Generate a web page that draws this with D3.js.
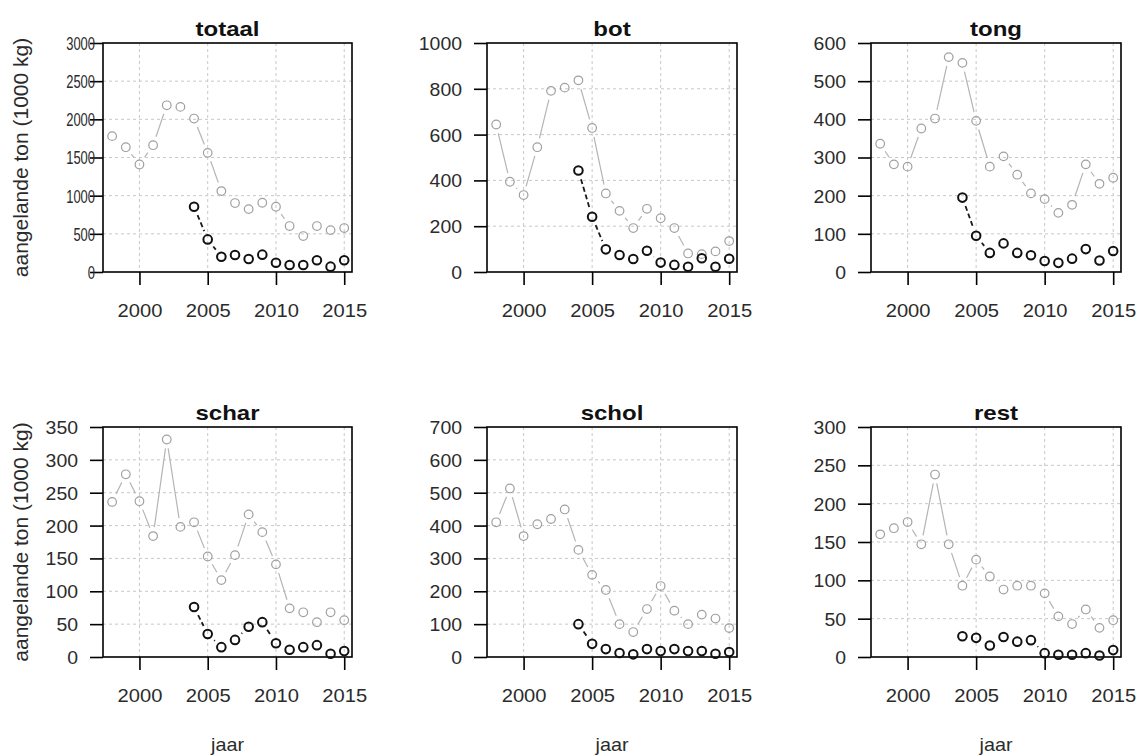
<!DOCTYPE html>
<html>
<head>
<meta charset="utf-8">
<script src="https://cdn.jsdelivr.net/npm/d3@7"></script>
<style>
  body { margin: 0; background: #fff; }
  svg { display: block; }
  text { font-family: Arial, "Liberation Sans", sans-serif; }
</style>
</head>
<body>
<svg id="chart" width="1139" height="755"></svg>
<script>
// Aangelande hoeveelheden per soort (1000 kg), twee reeksen
const jaren = [1998, 1999, 2000, 2001, 2002, 2003, 2004, 2005, 2006, 2007, 2008, 2009, 2010, 2011, 2012, 2013, 2014, 2015];
const jarenRecent = [2004, 2005, 2006, 2007, 2008, 2009, 2010, 2011, 2012, 2013, 2014, 2015];

const soorten = ["totaal", "bot", "tong", "schar", "schol", "rest"];

const totaalAlle   = [1780, 1635, 1408, 1661, 2184, 2163, 2010, 1561, 1060, 903, 824, 907, 855, 602, 471, 602, 549, 576];
const totaalRecent = [855, 427, 200, 222, 170, 227, 122, 92, 92, 153, 70, 153];

const botAlle   = [644, 394, 336, 545, 791, 805, 837, 629, 343, 267, 192, 276, 235, 192, 81, 78, 90, 135];
const botRecent = [443, 241, 99, 74, 57, 93, 41, 31, 23, 60, 23, 58];

const tongAlle   = [336, 282, 276, 376, 402, 563, 548, 396, 276, 303, 255, 206, 191, 155, 176, 282, 231, 247];
const tongRecent = [195, 95, 50, 75, 50, 44, 29, 24, 35, 60, 30, 55];

const scharAlle   = [236, 278, 237, 184, 331, 198, 205, 153, 117, 155, 217, 190, 141, 74, 68, 53, 68, 56];
const scharRecent = [76, 35, 15, 26, 46, 53, 21, 11, 15, 18, 5, 9];

const scholAlle   = [410, 513, 368, 404, 420, 449, 326, 250, 204, 100, 76, 146, 216, 141, 100, 129, 117, 88];
const scholRecent = [100, 40, 24, 12, 8, 24, 18, 24, 18, 18, 10, 15];

const restAlle   = [160, 168, 176, 147, 238, 147, 93, 127, 105, 88, 93, 93, 83, 53, 43, 62, 38, 48];
const restRecent = [27, 25, 15, 26, 20, 22, 5, 3, 3, 5, 2, 9];

// As-indeling per paneel
const ticksTotaal = [0, 500, 1000, 1500, 2000, 2500, 3000];
const ticksBot    = [0, 200, 400, 600, 800, 1000];
const ticksTong   = [0, 100, 200, 300, 400, 500, 600];
const ticksSchar  = [0, 50, 100, 150, 200, 250, 300, 350];
const ticksSchol  = [0, 100, 200, 300, 400, 500, 600, 700];
const ticksRest   = [0, 50, 100, 150, 200, 250, 300];
const jaarTicks   = [2000, 2005, 2010, 2015];

const yLabel = "aangelande ton (1000 kg)";
const xLabel = "jaar";

const panelen = [
  { titel: soorten[0], alle: totaalAlle, recent: totaalRecent, ticks: ticksTotaal },
  { titel: soorten[1], alle: botAlle,    recent: botRecent,    ticks: ticksBot },
  { titel: soorten[2], alle: tongAlle,   recent: tongRecent,   ticks: ticksTong },
  { titel: soorten[3], alle: scharAlle,  recent: scharRecent,  ticks: ticksSchar },
  { titel: soorten[4], alle: scholAlle,  recent: scholRecent,  ticks: ticksSchol },
  { titel: soorten[5], alle: restAlle,   recent: restRecent,   ticks: ticksRest }
];

// ---- layout ----
const kolommen = [[103, 352], [487, 737], [871, 1121]];
const rijen = [[43, 272], [427, 657]];
const xDomein = [1997.33, 2015.57];
const GAP = 9;           // open ruimte rond elk punt (type "b")
const RADIUS = 4.3;
const fmt = d3.format("d");

const svg = d3.select("#chart");

// lijnstukken tussen opeenvolgende punten, ingekort rond de punten
function segmenten(xs, vs, x, y) {
  const pts = xs.map((t, k) => [x(t), y(vs[k])]);
  const out = [];
  for (let k = 0; k < pts.length - 1; k++) {
    const [ax, ay] = pts[k], [bx, by] = pts[k + 1];
    const dx = bx - ax, dy = by - ay, d = Math.hypot(dx, dy);
    if (d <= 2 * GAP) continue;
    const ux = dx / d, uy = dy / d;
    out.push([ax + ux * GAP, ay + uy * GAP, bx - ux * GAP, by - uy * GAP]);
  }
  return out;
}

panelen.forEach((p, i) => {
  const col = i % 3, row = Math.floor(i / 3);
  const [x0, x1] = kolommen[col];
  const [y0, y1] = rijen[row];
  const yMax = p.ticks[p.ticks.length - 1];

  const x = d3.scaleLinear().domain(xDomein).range([x0, x1]);
  const y = d3.scaleLinear().domain([0, yMax]).range([y1, y0]);

  const g = svg.append("g");

  // raster
  g.selectAll(".gy").data(p.ticks.filter(t => t > 0 && t < yMax)).join("line")
    .attr("x1", x0).attr("x2", x1)
    .attr("y1", d => y(d)).attr("y2", d => y(d))
    .attr("stroke", "#c8c8c8").attr("stroke-width", 1).attr("stroke-dasharray", "3,3");
  g.selectAll(".gx").data(jaarTicks).join("line")
    .attr("x1", d => x(d)).attr("x2", d => x(d))
    .attr("y1", y0).attr("y2", y1)
    .attr("stroke", "#c8c8c8").attr("stroke-width", 1).attr("stroke-dasharray", "3,3");

  // y-as
  const yAs = g.append("g").attr("transform", `translate(${x0},0)`)
    .call(d3.axisLeft(y).tickValues(p.ticks).tickFormat(fmt).tickSize(13).tickSizeOuter(0));
  yAs.select(".domain").remove();
  yAs.selectAll("line").attr("stroke", "#000").attr("stroke-width", 1.6);
  const yPad = i === 0 ? 8 : 25;
  const ySx = i === 0 ? 0.72 : 1.08;
  yAs.selectAll("text")
    .attr("x", 0).attr("dy", "0.36em")
    .attr("transform", `translate(${-yPad},0) scale(${ySx},1)`)
    .attr("text-anchor", "end")
    .attr("font-size", 18).attr("fill", "#2b2b2b");

  // x-as
  const xAs = g.append("g").attr("transform", `translate(0,${y1})`)
    .call(d3.axisBottom(x).tickValues(jaarTicks).tickFormat(fmt).tickSize(13).tickSizeOuter(0));
  xAs.select(".domain").remove();
  xAs.selectAll("line").attr("stroke", "#000").attr("stroke-width", 1.6);
  xAs.selectAll("text")
    .attr("y", 0).attr("dy", 0)
    .attr("transform", "translate(0,45) scale(1.12,1)")
    .attr("text-anchor", "middle")
    .attr("font-size", 18).attr("fill", "#2b2b2b");

  // kader
  g.append("rect")
    .attr("x", x0).attr("y", y0).attr("width", x1 - x0).attr("height", y1 - y0)
    .attr("fill", "none").attr("stroke", "#000").attr("stroke-width", 1.6);

  // reeks over alle jaren (grijs)
  g.selectAll(".la").data(segmenten(jaren, p.alle, x, y)).join("line")
    .attr("x1", d => d[0]).attr("y1", d => d[1]).attr("x2", d => d[2]).attr("y2", d => d[3])
    .attr("stroke", "#b4b4b4").attr("stroke-width", 1.2);
  g.selectAll(".pa").data(jaren).join("circle")
    .attr("cx", d => x(d)).attr("cy", (d, k) => y(p.alle[k])).attr("r", RADIUS)
    .attr("fill", "none").attr("stroke", "#a0a0a0").attr("stroke-width", 1.2);

  // recente reeks (zwart)
  g.selectAll(".lr").data(segmenten(jarenRecent, p.recent, x, y)).join("line")
    .attr("x1", d => d[0]).attr("y1", d => d[1]).attr("x2", d => d[2]).attr("y2", d => d[3])
    .attr("stroke", "#1a1a1a").attr("stroke-width", 1.8).attr("stroke-dasharray", "5,3");
  g.selectAll(".pr").data(jarenRecent).join("circle")
    .attr("cx", d => x(d)).attr("cy", (d, k) => y(p.recent[k])).attr("r", RADIUS)
    .attr("fill", "none").attr("stroke", "#111").attr("stroke-width", 2);

  // titel
  g.append("text")
    .attr("transform", `translate(${(x0 + x1) / 2},${y0 - 7.5}) scale(1.2,1)`)
    .attr("text-anchor", "middle")
    .attr("font-size", 20).attr("font-weight", "bold").attr("fill", "#111")
    .text(p.titel);

  // as-titels
  if (col === 0) {
    g.append("text")
      .attr("transform", `translate(28,${(y0 + y1) / 2}) rotate(-90)`)
      .attr("text-anchor", "middle")
      .attr("font-size", 21).attr("fill", "#2b2b2b")
      .text(yLabel);
  }
  if (row === 1) {
    g.append("text")
      .attr("transform", `translate(${(x0 + x1) / 2},751) scale(1.1,1)`)
      .attr("text-anchor", "middle")
      .attr("font-size", 18).attr("fill", "#2b2b2b")
      .text(xLabel);
  }
});
</script>
</body>
</html>
